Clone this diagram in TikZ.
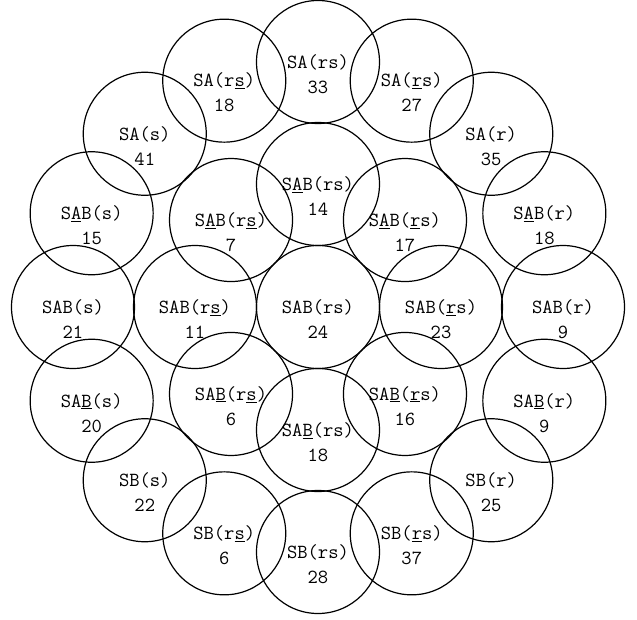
\documentclass[tikz,border=0pt]{standalone}
\usepackage{tikz}

\newcommand{\uu}[1]{\underline{#1}}

\begin{document}
\begin{tikzpicture}[
    every node/.style={font=\ttfamily\fontsize{20}{25}\selectfont},
    ring/.style={
        circle,
        draw,
        line width=1.2pt,
        minimum size=123pt,
        inner sep=0pt
    },
    tag/.style={align=center, inner sep=0pt, yshift=-12pt}
]

\useasboundingbox (-318pt,-312pt) rectangle (319pt,307pt);

% ---------- Centre ----------
\node[ring, label={[tag]center:{SAB(rs)\\24}}] (c) at (0,0) {};

% ---------- Inner ring (touching the centre) ----------
\node[ring, label={[tag]center:{SAB(\uu{r}s)\\23}}]      (i1) at (0:123pt)   {};
\node[ring, label={[tag]center:{S\uu{A}B(\uu{r}s)\\17}}] (i2) at (45:123pt)  {};
\node[ring, label={[tag]center:{S\uu{A}B(rs)\\14}}]      (i3) at (90:123pt)  {};
\node[ring, label={[tag]center:{S\uu{A}B(r\uu{s})\\7}}]  (i4) at (135:123pt) {};
\node[ring, label={[tag]center:{SAB(r\uu{s})\\11}}]      (i5) at (180:123pt) {};
\node[ring, label={[tag]center:{SA\uu{B}(r\uu{s})\\6}}]  (i6) at (225:123pt) {};
\node[ring, label={[tag]center:{SA\uu{B}(rs)\\18}}]      (i7) at (270:123pt) {};
\node[ring, label={[tag]center:{SA\uu{B}(\uu{r}s)\\16}}] (i8) at (315:123pt) {};

% ---------- Outer ring ----------
\node[ring, label={[tag]center:{SAB(r)\\9}}]          (o1)  at (0:245pt)     {};
\node[ring, label={[tag]center:{S\uu{A}B(r)\\18}}]    (o2)  at (22.5:245pt)  {};
\node[ring, label={[tag]center:{SA(r)\\35}}]          (o3)  at (45:245pt)    {};
\node[ring, label={[tag]center:{SA(\uu{r}s)\\27}}]    (o4)  at (67.5:245pt)  {};
\node[ring, label={[tag]center:{SA(rs)\\33}}]         (o5)  at (90:245pt)    {};
\node[ring, label={[tag]center:{SA(r\uu{s})\\18}}]    (o6)  at (112.5:245pt) {};
\node[ring, label={[tag]center:{SA(s)\\41}}]          (o7)  at (135:245pt)   {};
\node[ring, label={[tag]center:{S\uu{A}B(s)\\15}}]    (o8)  at (157.5:245pt) {};
\node[ring, label={[tag]center:{SAB(s)\\21}}]         (o9)  at (180:245pt)   {};
\node[ring, label={[tag]center:{SA\uu{B}(s)\\20}}]    (o10) at (202.5:245pt) {};
\node[ring, label={[tag]center:{SB(s)\\22}}]          (o11) at (225:245pt)   {};
\node[ring, label={[tag]center:{SB(r\uu{s})\\6}}]     (o12) at (247.5:245pt) {};
\node[ring, label={[tag]center:{SB(rs)\\28}}]         (o13) at (270:245pt)   {};
\node[ring, label={[tag]center:{SB(\uu{r}s)\\37}}]    (o14) at (292.5:245pt) {};
\node[ring, label={[tag]center:{SB(r)\\25}}]          (o15) at (315:245pt)   {};
\node[ring, label={[tag]center:{SA\uu{B}(r)\\9}}]     (o16) at (337.5:245pt) {};

\end{tikzpicture}
\end{document}
